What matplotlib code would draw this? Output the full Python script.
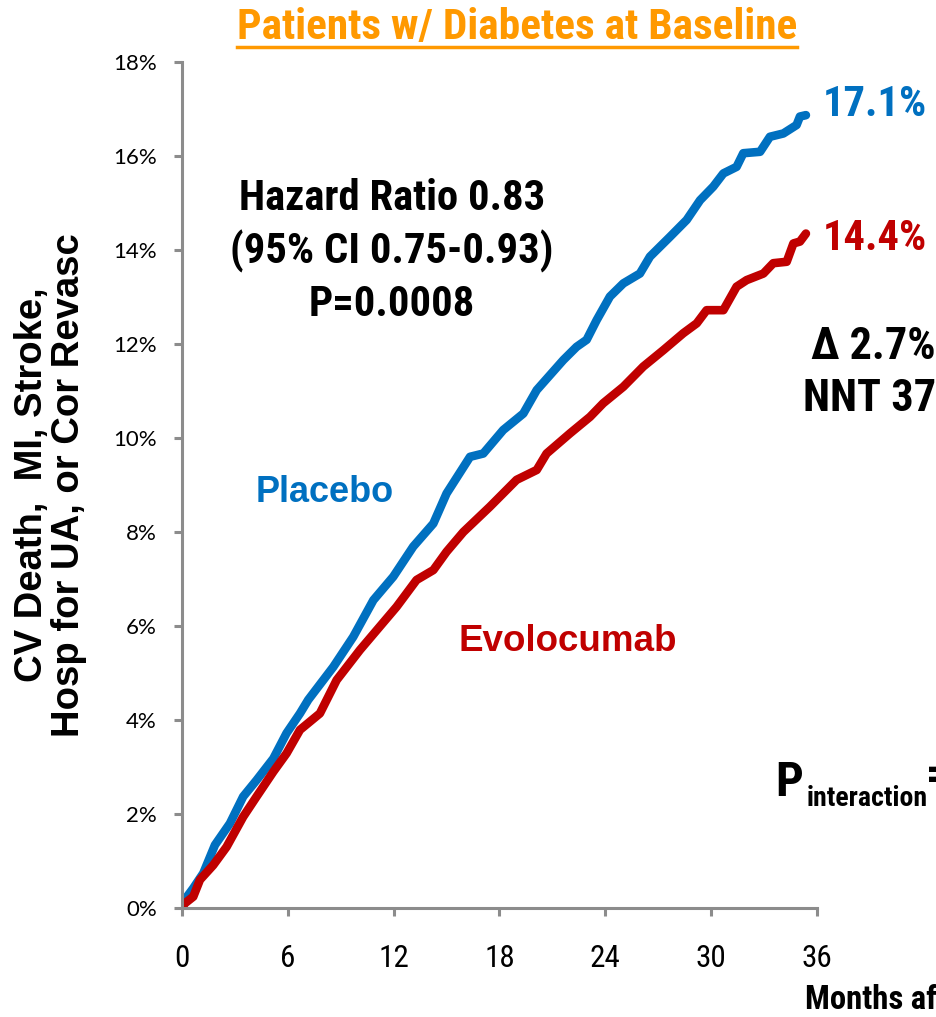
import matplotlib
matplotlib.use("Agg")
import matplotlib.pyplot as plt
from matplotlib import font_manager
from matplotlib.font_manager import FontProperties

# Kaplan-Meier style cumulative event curves (months, %)
placebo_months = [0, 0.07, 0.64, 1.21, 1.87, 2.72, 3.47, 4.23, 5.18, 5.93, 6.69, 7.16,
                  8.58, 9.71, 10.85, 11.98, 13.11, 14.25, 15.0, 16.33, 17.08, 18.21,
                  19.35, 20.11, 21.62, 22.37, 22.94, 23.51, 24.26, 25.02, 25.96, 26.53,
                  27.66, 28.61, 29.37, 30.12, 30.69, 31.44, 31.82, 32.77, 33.33, 34.09,
                  34.84, 35.03, 35.37]
placebo_pct = [0, 0.13, 0.42, 0.74, 1.34, 1.80, 2.37, 2.72, 3.18, 3.72, 4.14, 4.43,
               5.13, 5.77, 6.55, 7.05, 7.69, 8.18, 8.82, 9.60, 9.67, 10.17,
               10.52, 11.02, 11.66, 11.94, 12.09, 12.51, 13.01, 13.29, 13.50, 13.86,
               14.28, 14.64, 15.06, 15.35, 15.63, 15.77, 16.06, 16.09, 16.41, 16.48,
               16.66, 16.84, 16.87]

evolocumab_months = [0, 0.17, 0.64, 1.02, 1.77, 2.53, 3.47, 4.23, 5.18, 5.93, 6.69, 7.82,
                     8.77, 10.09, 11.22, 12.17, 13.30, 14.25, 15.0, 15.95, 17.46, 18.97,
                     20.11, 20.67, 22.0, 23.13, 23.88, 25.02, 26.15, 27.29, 28.42, 29.18,
                     29.74, 30.69, 31.44, 32.01, 32.96, 33.52, 34.28, 34.66, 35.03, 35.37]
evolocumab_pct = [0, 0.10, 0.24, 0.60, 0.91, 1.30, 1.94, 2.37, 2.90, 3.29, 3.79, 4.14,
                  4.85, 5.49, 5.99, 6.41, 6.98, 7.19, 7.58, 8.00, 8.54, 9.11,
                  9.32, 9.67, 10.10, 10.45, 10.74, 11.09, 11.52, 11.87, 12.23, 12.44,
                  12.72, 12.72, 13.22, 13.36, 13.50, 13.72, 13.75, 14.14, 14.18, 14.35]

x_ticks = [0, 6, 12, 18, 24, 30, 36]
y_ticks = [0, 2, 4, 6, 8, 10, 12, 14, 16, 18]

blue = "#0070C0"
red = "#C00000"
orange = "#FF9900"


def narrow_font(weight):
    # look for a condensed / narrow face of the given weight, else plain Liberation Sans
    found = []
    for f in font_manager.fontManager.ttflist:
        cond = ("Narrow" in f.name or "Condensed" in f.name
                or str(f.stretch) in ("condensed", "semi-condensed", "extra-condensed"))
        w = f.weight if isinstance(f.weight, int) else (700 if "bold" in str(f.weight) else 400)
        if cond and abs(w - weight) <= 100 and "italic" not in f.style and "oblique" not in f.style:
            found.append(f)
    found.sort(key=lambda f: (0 if "Liberation" in f.name else 1 if "Roboto" in f.name else 2,
                              abs((f.weight if isinstance(f.weight, int) else 400) - weight), f.fname))
    if found:
        return FontProperties(fname=found[0].fname), True
    return FontProperties(family="Liberation Sans", weight=weight), False


nb, is_narrow = narrow_font(700)
nr, _ = narrow_font(400)
k = 1.18 if is_narrow else 1.0   # narrow faces need a bigger size for the same width
tickfont = "Lato" if "Lato" in set(f.name for f in font_manager.fontManager.ttflist) else "DejaVu Sans"


def fp(size, base=nb):
    p = base.copy()
    p.set_size(size * k)
    return p


fig = plt.figure(figsize=(9.36, 10.17), dpi=100)
ax = fig.add_axes([0.1944, 0.1072, 0.6785, 0.8318])

ax.plot(placebo_months, placebo_pct, color=blue, lw=6.2,
        solid_capstyle="round", solid_joinstyle="round")
ax.plot(evolocumab_months, evolocumab_pct, color=red, lw=6.2,
        solid_capstyle="round", solid_joinstyle="round")

ax.set_xlim(0, 36)
ax.set_ylim(0, 18)
ax.set_xticks(x_ticks)
ax.set_yticks(y_ticks)
ax.set_xticklabels([str(t) for t in x_ticks], fontproperties=fp(19, nr))
ax.set_yticklabels(["%d%%" % t for t in y_ticks], fontfamily=tickfont, fontsize=16)
for s in ["top", "right"]:
    ax.spines[s].set_visible(False)
for s in ["left", "bottom"]:
    ax.spines[s].set_color("#8c8c8c")
    ax.spines[s].set_linewidth(2.2)
ax.tick_params(axis="both", direction="out", length=6, width=2.2, color="#8c8c8c")
ax.tick_params(axis="x", pad=20)
ax.tick_params(axis="y", pad=12)

ax.set_ylabel("CV Death,  MI, Stroke,\nHosp for UA, or Cor Revasc", fontsize=27.5,
              fontweight="bold", fontfamily="Liberation Sans", labelpad=19,
              linespacing=1.02)

# title
fig.text(0.5525, 0.9725, "Patients w/ Diabetes at Baseline", ha="center", va="center",
         fontproperties=fp(26.5), color=orange)
fig.add_artist(plt.Line2D([0.253, 0.851], [0.9538, 0.9538], color=orange, lw=2.5))

# annotations
ax.text(11.9, 13.97, "Hazard Ratio 0.83\n(95% CI 0.75-0.93)\nP=0.0008", ha="center",
        va="center", fontproperties=fp(26), linespacing=1.33)
ax.text(4.15, 8.85, "Placebo", ha="left", va="center", fontsize=26,
        fontweight="bold", fontfamily="Liberation Sans", color=blue)
ax.text(15.65, 5.66, "Evolocumab", ha="left", va="center", fontsize=26.5,
        fontweight="bold", fontfamily="Liberation Sans", color=red)
ax.text(36.3, 17.1, "17.1%", ha="left", va="center", fontproperties=fp(26),
        color=blue, clip_on=False)
ax.text(36.3, 14.25, "14.4%", ha="left", va="center", fontproperties=fp(26),
        color=red, clip_on=False)
ax.text(42.75, 11.38, "\u0394 2.7%\nNNT 37", ha="right", va="center", fontproperties=fp(27),
        clip_on=False, linespacing=1.3)
ax.text(33.62, 2.66, "P", ha="left", va="center", fontproperties=fp(30), clip_on=False)
ax.text(35.4, 2.33, "interaction", ha="left", va="center", fontproperties=fp(17),
        clip_on=False)
ax.text(42.2, 2.8, "=", ha="left", va="center", fontproperties=fp(28), clip_on=False)
fig.text(0.86, 0.0165, "Months after Randomization", ha="left", va="center",
         fontproperties=fp(20))

fig.savefig("out.png", dpi=100)
